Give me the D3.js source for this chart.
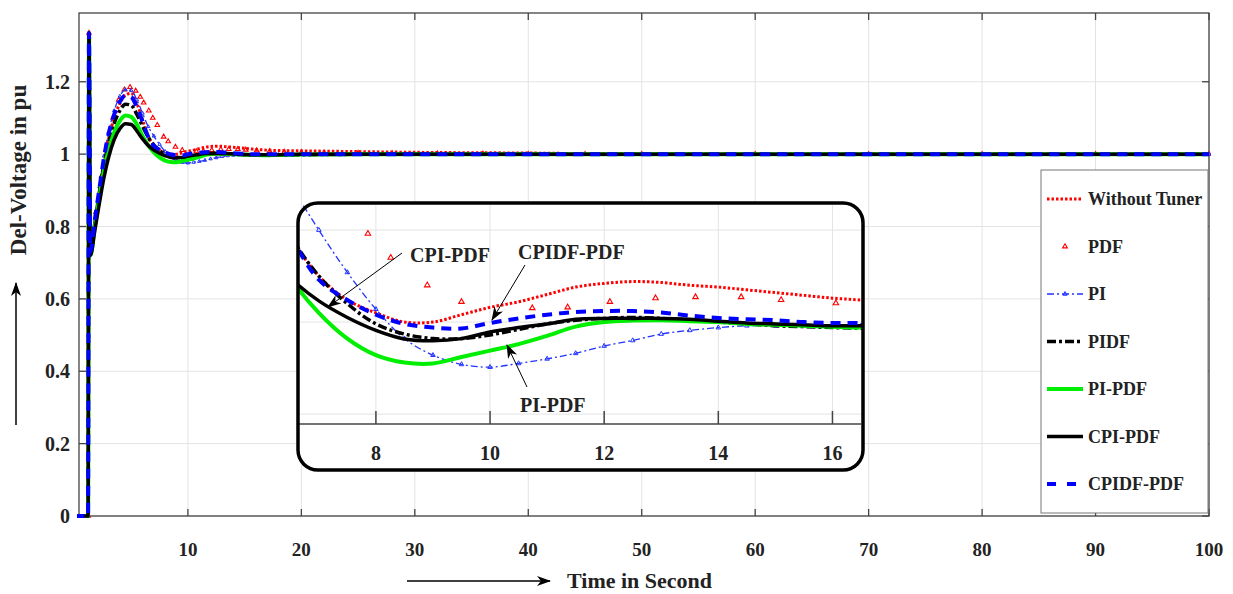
<!DOCTYPE html>
<html>
<head>
<meta charset="utf-8">
<script src="https://cdn.jsdelivr.net/npm/d3@7"></script>
<style>
  body { margin: 0; background: #fff; }
  svg text { font-family: "Liberation Serif", "Times New Roman", serif; font-weight: bold; fill: #222; }
</style>
</head>
<body>
<svg id="chart" width="1233" height="594"></svg>
<script>
// time axis shared by the line series (seconds)
var time = [0, 1.2, 1.28, 1.4, 1.8, 2.2, 2.6, 3, 3.5, 4,
    4.5, 5, 5.5, 6, 6.5, 7, 7.5, 8, 8.5, 9,
    9.5, 10, 10.5, 11, 11.5, 12, 12.5, 13, 13.5, 14,
    14.5, 15, 15.5, 16, 16.5, 17, 18, 20, 25, 30,
    40, 50, 100];

var withoutTuner = [0, 0, 1.335, 0.72, 0.80, 0.885, 0.97, 1.04, 1.10, 1.14,
    1.163, 1.168, 1.14, 1.095, 1.048, 1.025, 1.012, 1.005, 1.0, 1.0,
    1.004, 1.008, 1.011, 1.015, 1.019, 1.021, 1.022, 1.0215, 1.020, 1.019,
    1.0175, 1.016, 1.0145, 1.013, 1.012, 1.011, 1.01, 1.009, 1.007, 1.005,
    1.003, 1.0, 1.0];

var piValues = [0, 0, 1.335, 0.74, 0.82, 0.91, 0.995, 1.06, 1.12, 1.16,
    1.178, 1.176, 1.15, 1.113, 1.076, 1.05, 1.027, 1.007, 0.991, 0.982,
    0.977, 0.9755, 0.9775, 0.980, 0.983, 0.987, 0.990, 0.9935, 0.9955, 0.997,
    0.998, 0.998, 0.998, 0.998, 0.998, 0.9985, 0.999, 1.0, 1.0, 1.0,
    1.0, 1.0, 1.0];

var pidfValues = [0, 0, 1.335, 0.73, 0.81, 0.895, 0.97, 1.03, 1.085, 1.12,
    1.138, 1.135, 1.11, 1.077, 1.047, 1.025, 1.01, 0.999, 0.9935, 0.991,
    0.991, 0.993, 0.996, 0.999, 1.001, 1.002, 1.0025, 1.002, 1.001, 1.0,
    0.999, 0.998, 0.9975, 0.997, 0.9967, 0.9967, 0.997, 0.998, 0.9995, 1.0,
    1.0, 1.0, 1.0];

var piPdfValues = [0, 0, 1.335, 0.72, 0.80, 0.88, 0.955, 1.01, 1.06, 1.092,
    1.107, 1.103, 1.082, 1.05, 1.024, 1.005, 0.991, 0.982, 0.978, 0.9775,
    0.981, 0.9845, 0.988, 0.9925, 0.9975, 1.0, 1.0008, 1.001, 1.0005, 1.0,
    0.999, 0.9985, 0.998, 0.9975, 0.997, 0.997, 0.9975, 0.999, 1.0, 1.0,
    1.0, 1.0, 1.0];

var cpiPdfValues = [0, 0, 1.335, 0.72, 0.79, 0.865, 0.935, 0.99, 1.04, 1.07,
    1.084, 1.082, 1.064, 1.042, 1.024, 1.0115, 1.0025, 0.9955, 0.9908, 0.9898,
    0.991, 0.9946, 0.997, 0.999, 1.0015, 1.002, 1.002, 1.002, 1.0015, 1.0005,
    0.9995, 0.999, 0.9985, 0.998, 0.998, 0.998, 0.9985, 0.9995, 1.0, 1.0,
    1.0, 1.0, 1.0];

var cpidfPdfValues = [0, 0, 1.335, 0.73, 0.82, 0.905, 0.99, 1.055, 1.11, 1.145,
    1.162, 1.158, 1.13, 1.09, 1.048, 1.023, 1.012, 1.004, 0.999, 0.997,
    0.9965, 0.9995, 1.002, 1.004, 1.0055, 1.006, 1.006, 1.0052, 1.0035, 1.0022,
    1.0015, 1.001, 1.0, 0.9995, 0.9995, 0.9995, 1.0, 1.0, 1.0, 1.0,
    1.0, 1.0, 1.0];

// PDF is plotted with markers only, at the solver's own time steps
var pdfTime = [0, 1.2, 1.28, 1.45, 1.9, 2.4, 2.9, 3.4, 3.9, 4.4,
    4.9, 5.4, 5.8, 6.1, 6.55, 6.9, 7.3, 7.86, 8.26, 8.9,
    9.5, 10.74, 11.36, 12.1, 12.9, 13.6, 14.4, 15.1, 16.06, 17.2,
    18.5, 20, 22, 25, 28, 32, 36, 40, 45, 50,
    60, 70, 80, 90, 100];
var pdfValues = [0, 0, 1.335, 0.74, 0.84, 0.94, 1.03, 1.10, 1.15, 1.178,
    1.185, 1.175, 1.158, 1.142, 1.12, 1.10, 1.08, 1.048, 1.035, 1.02,
    1.011, 1.0076, 1.008, 1.011, 1.013, 1.0136, 1.0136, 1.012, 1.0103, 1.008,
    1.006, 1.005, 1.004, 1.003, 1.002, 1.0015, 1.001, 1.0, 1.0, 1.0,
    1.0, 1.0, 1.0, 1.0, 1.0];

var seriesNames = ["Without Tuner", "PDF", "PI", "PIDF", "PI-PDF", "CPI-PDF", "CPIDF-PDF"];
var xTicks = [10, 20, 30, 40, 50, 60, 70, 80, 90, 100];
var yTicks = [0, 0.2, 0.4, 0.6, 0.8, 1, 1.2];
var insetXTicks = [8, 10, 12, 14, 16];
var insetYGrid = [0.95, 1, 1.05];

var lineData = {
    "Without Tuner": withoutTuner,
    "PI": piValues,
    "PIDF": pidfValues,
    "PI-PDF": piPdfValues,
    "CPI-PDF": cpiPdfValues,
    "CPIDF-PDF": cpidfPdfValues
};

var styles = {
    "Without Tuner": {color: "#ff0000", width: 3, dash: "2.5,2"},
    "PDF": {color: "#ff0000"},
    "PI": {color: "#2233ff", width: 1.3, dash: "7,3,2,3", marker: true},
    "PIDF": {color: "#000", width: 3.5, dash: "9,3,3,3"},
    "PI-PDF": {color: "#00ee00", width: 4, dash: null},
    "CPI-PDF": {color: "#000", width: 3.5, dash: null},
    "CPIDF-PDF": {color: "#0000ff", width: 4, dash: "10,7"}
};

var svg = d3.select("#chart");
var defs = svg.append("defs");

defs.append("marker").attr("id", "head")
    .attr("viewBox", "0 0 14 10").attr("refX", 13).attr("refY", 5)
    .attr("markerWidth", 14).attr("markerHeight", 10)
    .attr("markerUnits", "userSpaceOnUse").attr("orient", "auto")
    .append("path").attr("d", "M0,0 L14,5 L0,10 L4,5 Z").attr("fill", "#000");

defs.append("clipPath").attr("id", "mainClip")
    .append("rect").attr("x", 77).attr("y", 11).attr("width", 1134).attr("height", 508);
defs.append("clipPath").attr("id", "insetClip")
    .append("rect").attr("x", 299).attr("y", 204).attr("width", 563).attr("height", 219);

var x = d3.scaleLinear().domain([0.4, 100]).range([79, 1209]);
var y = d3.scaleLinear().domain([0, 1.39]).range([516, 13]);

function label(g, px, py, str, size, anchor, transform) {
    return g.append("text")
        .attr("transform", "translate(" + px + "," + py + ")" + (transform || ""))
        .attr("text-anchor", anchor || "start")
        .attr("font-size", size)
        .text(str);
}

// draws every series of the chart with the given scales
function drawSeries(g, sx, sy, curve, pdfSize, piSize) {
    seriesNames.forEach(function (name) {
        var st = styles[name];
        if (name === "PDF") {
            g.selectAll(null).data(d3.zip(pdfTime, pdfValues)).enter()
                .append("path")
                .attr("d", d3.symbol(d3.symbolTriangle).size(pdfSize))
                .attr("transform", function (d) { return "translate(" + sx(d[0]) + "," + sy(d[1]) + ")"; })
                .attr("fill", "none").attr("stroke", st.color).attr("stroke-width", 1.1);
            return;
        }
        var pts = d3.zip(time, lineData[name]);
        var line = d3.line()
            .x(function (d) { return sx(d[0]); })
            .y(function (d) { return sy(d[1]); })
            .curve(curve);
        g.append("path").datum(pts)
            .attr("d", line)
            .attr("fill", "none")
            .attr("stroke", st.color)
            .attr("stroke-width", st.width)
            .attr("stroke-dasharray", st.dash)
            .attr("stroke-linejoin", "round");
        if (st.marker) {
            g.selectAll(null).data(pts).enter()
                .append("path")
                .attr("d", d3.symbol(d3.symbolTriangle).size(piSize))
                .attr("transform", function (d) { return "translate(" + sx(d[0]) + "," + sy(d[1]) + ")"; })
                .attr("fill", "none").attr("stroke", st.color).attr("stroke-width", 1);
        }
    });
}

// main grid
var grid = svg.append("g");
grid.selectAll(".gx").data(xTicks).enter().append("line")
    .attr("x1", function (d) { return x(d); }).attr("x2", function (d) { return x(d); })
    .attr("y1", 13).attr("y2", 516).attr("stroke", "#e3e3e3").attr("stroke-width", 1);
grid.selectAll(".gy").data(yTicks).enter().append("line")
    .attr("y1", function (d) { return y(d); }).attr("y2", function (d) { return y(d); })
    .attr("x1", 79).attr("x2", 1209).attr("stroke", "#e3e3e3").attr("stroke-width", 1);

// axes box and ticks
var axes = svg.append("g");
axes.append("rect").attr("x", 79).attr("y", 13).attr("width", 1130).attr("height", 503)
    .attr("fill", "none").attr("stroke", "#444").attr("stroke-width", 1.3);
xTicks.forEach(function (t) {
    axes.append("line").attr("x1", x(t)).attr("x2", x(t)).attr("y1", 516).attr("y2", 509)
        .attr("stroke", "#444").attr("stroke-width", 1.3);
    axes.append("line").attr("x1", x(t)).attr("x2", x(t)).attr("y1", 13).attr("y2", 20)
        .attr("stroke", "#444").attr("stroke-width", 1.3);
    label(axes, x(t), 556, t, 19, "middle");
});
yTicks.forEach(function (v) {
    axes.append("line").attr("x1", 79).attr("x2", 86).attr("y1", y(v)).attr("y2", y(v))
        .attr("stroke", "#444").attr("stroke-width", 1.3);
    axes.append("line").attr("x1", 1209).attr("x2", 1202).attr("y1", y(v)).attr("y2", y(v))
        .attr("stroke", "#444").attr("stroke-width", 1.3);
    label(axes, 70, y(v) + 7, v, 20, "end");
});

// main plot lines
drawSeries(svg.append("g").attr("clip-path", "url(#mainClip)"), x, y, d3.curveMonotoneX, 9, 5);

// axis titles with arrows
label(svg, 567, 588, "Time in Second", 22, "start");
svg.append("line").attr("x1", 407).attr("x2", 550).attr("y1", 581).attr("y2", 581)
    .attr("stroke", "#000").attr("stroke-width", 1.5).attr("marker-end", "url(#head)");
label(svg, 26, 170, "Del-Voltage in pu", 23, "middle", " rotate(-90)");
svg.append("line").attr("x1", 16).attr("x2", 16).attr("y1", 425).attr("y2", 283)
    .attr("stroke", "#000").attr("stroke-width", 1.5).attr("marker-end", "url(#head)");

// inset
var ix = d3.scaleLinear().domain([6.67, 16.5]).range([300, 861]);
var iy = d3.scaleLinear().domain([0.9446, 1.0647]).range([424, 203]);
var inset = svg.append("g");
inset.append("rect").attr("x", 298).attr("y", 203).attr("width", 565).attr("height", 267)
    .attr("rx", 20).attr("fill", "#fff");
inset.selectAll(".igx").data(insetXTicks).enter().append("line")
    .attr("x1", function (d) { return ix(d); }).attr("x2", function (d) { return ix(d); })
    .attr("y1", 205).attr("y2", 424).attr("stroke", "#e3e3e3");
inset.selectAll(".igy").data(insetYGrid).enter().append("line")
    .attr("y1", function (d) { return iy(d); }).attr("y2", function (d) { return iy(d); })
    .attr("x1", 299).attr("x2", 861).attr("stroke", "#e3e3e3");
drawSeries(inset.append("g").attr("clip-path", "url(#insetClip)"), ix, iy,
    d3.curveCatmullRom.alpha(0.5), 13, 9);
inset.append("line").attr("x1", 299).attr("x2", 861).attr("y1", 424).attr("y2", 424)
    .attr("stroke", "#444").attr("stroke-width", 1.5);
insetXTicks.forEach(function (t) {
    inset.append("line").attr("x1", ix(t)).attr("x2", ix(t)).attr("y1", 424).attr("y2", 411)
        .attr("stroke", "#444").attr("stroke-width", 1.5);
    label(inset, ix(t), 460, t, 20, "middle");
});
inset.append("rect").attr("x", 298).attr("y", 203).attr("width", 565).attr("height", 267)
    .attr("rx", 20).attr("fill", "none").attr("stroke", "#000").attr("stroke-width", 3.5);

// annotations
var notes = svg.append("g");
label(notes, 410, 262, "CPI-PDF", 20, "start");
notes.append("line").attr("x1", 402).attr("y1", 253).attr("x2", 328).attr("y2", 307)
    .attr("stroke", "#000").attr("stroke-width", 1).attr("marker-end", "url(#head)");
label(notes, 518, 259, "CPIDF-PDF", 20, "start");
notes.append("line").attr("x1", 525).attr("y1", 265).attr("x2", 492).attr("y2", 320)
    .attr("stroke", "#000").attr("stroke-width", 1).attr("marker-end", "url(#head)");
label(notes, 520, 412, "PI-PDF", 20, "start");
notes.append("line").attr("x1", 527).attr("y1", 387).attr("x2", 507).attr("y2", 345)
    .attr("stroke", "#000").attr("stroke-width", 1).attr("marker-end", "url(#head)");

// legend
var legend = svg.append("g");
legend.append("rect").attr("x", 1041).attr("y", 170).attr("width", 167).attr("height", 343)
    .attr("fill", "#fff").attr("stroke", "#777").attr("stroke-width", 1);
seriesNames.forEach(function (name, i) {
    var ly = 199 + i * 47.5;
    var st = styles[name];
    if (name === "PDF") {
        legend.append("path").attr("d", d3.symbol(d3.symbolTriangle).size(10))
            .attr("transform", "translate(1065," + ly + ")")
            .attr("fill", "none").attr("stroke", st.color).attr("stroke-width", 1.1);
    } else {
        legend.append("line").attr("x1", 1047).attr("x2", 1083).attr("y1", ly).attr("y2", ly)
            .attr("stroke", st.color).attr("stroke-width", st.width)
            .attr("stroke-dasharray", name === "CPIDF-PDF" ? "9,11" : st.dash);
        if (st.marker) {
            legend.append("path").attr("d", d3.symbol(d3.symbolTriangle).size(8))
                .attr("transform", "translate(1065," + ly + ")")
                .attr("fill", "none").attr("stroke", st.color).attr("stroke-width", 1);
        }
    }
    label(legend, 1088, ly + 6, name, 18, "start");
});
</script>
</body>
</html>
